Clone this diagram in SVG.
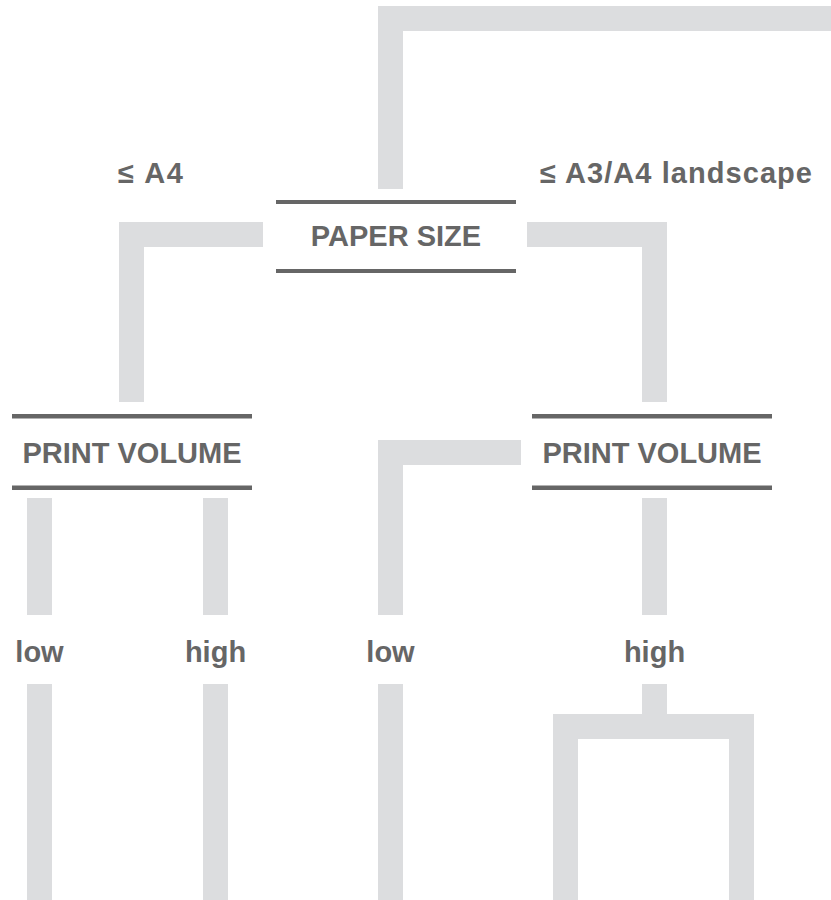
<svg xmlns="http://www.w3.org/2000/svg" width="831" height="900" viewBox="0 0 831 900">
<style>
.c{fill:#dcdddf}
.r{fill:#666666}
.t{font-family:"Liberation Sans",Arial,Helvetica,sans-serif;font-weight:bold;font-size:29px;fill:#666666}
.m{text-anchor:middle}
</style>
<rect width="831" height="900" fill="#ffffff"/>
<g id="connectors">
<path class="c" d="M378,6 H831 V31 H403 V189 H378 Z"/>
<path class="c" d="M119,222 H263 V247 H144 V402 H119 Z"/>
<path class="c" d="M527,222 H667 V402 H642 V247 H527 Z"/>
<path class="c" d="M378,440 H521 V465 H403 V615 H378 Z"/>
<rect class="c" x="27" y="498" width="25" height="117"/>
<rect class="c" x="203" y="498" width="25" height="117"/>
<rect class="c" x="642" y="498" width="25" height="117"/>
<rect class="c" x="27" y="684" width="25" height="216"/>
<rect class="c" x="203" y="684" width="25" height="216"/>
<rect class="c" x="378" y="684" width="25" height="216"/>
<path class="c" d="M642,684 H667 V714 H754 V900 H729 V739 H578 V900 H553 V714 H642 Z"/>
</g>
<g id="edge-labels">
<text class="t" x="118" y="183" textLength="65" lengthAdjust="spacing">≤ A4</text>
<text class="t" x="540" y="183" textLength="272" lengthAdjust="spacing">≤ A3/A4 landscape</text>
<text class="t m" x="39.5" y="662">low</text>
<text class="t m" x="215.5" y="662">high</text>
<text class="t m" x="390.5" y="662">low</text>
<text class="t m" x="654.5" y="662">high</text>
</g>
<g id="paper-size">
<rect class="r" x="276" y="200" width="240" height="4"/>
<rect class="r" x="276" y="269" width="240" height="4"/>
<text class="t m" x="396" y="246">PAPER SIZE</text>
</g>
<g id="print-volume-left">
<rect class="r" x="12" y="414" width="240" height="4.5"/>
<rect class="r" x="12" y="485.5" width="240" height="4.5"/>
<text class="t m" x="132" y="463">PRINT VOLUME</text>
</g>
<g id="print-volume-right">
<rect class="r" x="532" y="414" width="240" height="4.5"/>
<rect class="r" x="532" y="485.5" width="240" height="4.5"/>
<text class="t m" x="652" y="463">PRINT VOLUME</text>
</g>
</svg>
